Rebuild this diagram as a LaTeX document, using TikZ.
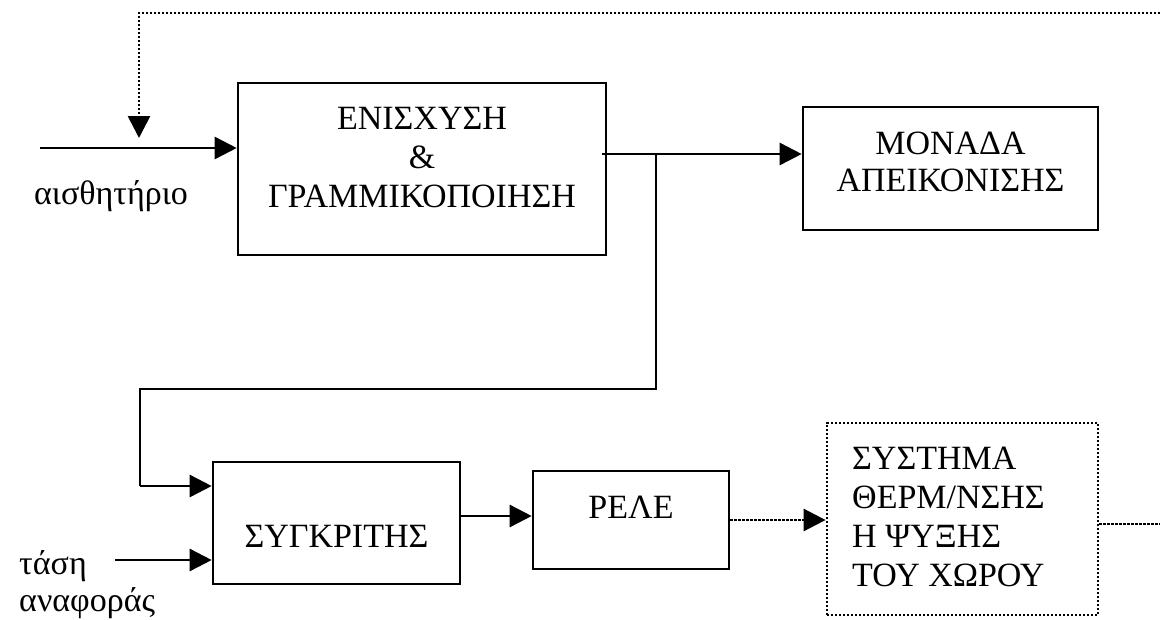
\documentclass[tikz,border=0pt]{standalone}
\usepackage{fontspec}
\setmainfont{Liberation Serif}
\usetikzlibrary{arrows.meta,calc}
\begin{document}
\begin{tikzpicture}[x=1pt,y=-1pt,
  blk/.style={draw, line width=2.6pt, inner sep=0pt},
  dblk/.style={draw, line width=2.8pt, inner sep=0pt, dash pattern=on 2.4pt off 1.6pt},
  txt/.style={inner sep=0pt, align=center, font=\fontsize{34}{39}\selectfont},
  ltxt/.style={inner sep=0pt, align=left, anchor=west, font=\fontsize{34}{39}\selectfont},
  arr/.style={line width=2.6pt, -{Triangle[length=22pt,width=22pt]}},
  dconn/.style={line width=2.8pt, dash pattern=on 2.4pt off 1.6pt},
  darr/.style={line width=2.8pt, dash pattern=on 2.4pt off 1.6pt, -{Triangle[length=22pt,width=22pt]}}
]
\useasboundingbox (0,0) rectangle (1160,619);
% boxes
\node[blk, minimum width=368pt, minimum height=172pt] (b1) at (422,169) {};
\node[blk, minimum width=295pt, minimum height=123pt] (b2) at (950.5,168.5) {};
\node[blk, minimum width=247pt, minimum height=122pt] (b3) at (336.5,523) {};
\node[blk, minimum width=196pt, minimum height=98pt] (b4) at (631,520) {};
\node[dblk, minimum width=271pt, minimum height=192pt] (b5) at (962.5,519) {};
% texts
\node[txt] (t1) at (422,158) {ΕΝΙΣΧΥΣΗ\\\&\\ΓΡΑΜΜΙΚΟΠΟΙΗΣΗ};
\node[txt, font=\fontsize{34}{37}\selectfont] (t2) at (950.5,162) {ΜΟΝΑΔΑ\\ΑΠΕΙΚΟΝΙΣΗΣ};
\node[txt] (t3) at (336.5,536) {ΣΥΓΚΡΙΤΗΣ};
\node[txt] (t4) at (631,507) {ΡΕΛΕ};
\node[ltxt] (t5) at (852,517) {ΣΥΣΤΗΜΑ\\ΘΕΡΜ/ΝΣΗΣ\\Η ΨΥΞΗΣ\\ΤΟΥ ΧΩΡΟΥ};
\node[txt] (ls) at (111,196) {αισθητήριο};
\node[ltxt] (lt) at (19,566) {τάση};
\node[ltxt] (la) at (19,603) {αναφοράς};
% coordinates
\coordinate (in1) at (40,148);
\coordinate (fbR) at (1160,13);
\coordinate (fbL) at (139,13);
\coordinate (fbE) at (139,138);
\coordinate (o1) at (602,154);
\coordinate (j1) at (656,154);
\coordinate (j2) at (656,389);
\coordinate (j3) at (140,389);
\coordinate (j4) at (140,486);
\coordinate (ref) at (115,560);
\coordinate (c34) at (460,516);
\coordinate (edgeR) at (1160,524);
% connectors
\draw[arr] (in1) -- (in1 -| b1.west);
\draw[darr] (fbR) -- (fbL) -- (fbE);
\draw[arr] (o1) -- (o1 -| b2.west);
\draw[line width=2.6pt] (j1) -- (j2) -- (j3) -- (j4);
\draw[arr] (j4) -- (j4 -| b3.west);
\draw[arr] (ref) -- (ref -| b3.west);
\draw[arr] (c34) -- (c34 -| b4.west);
\draw[darr] (b4.east) -- (b4.east -| b5.west);
\draw[dconn] (edgeR -| b5.east) -- (edgeR);
\end{tikzpicture}
\end{document}
